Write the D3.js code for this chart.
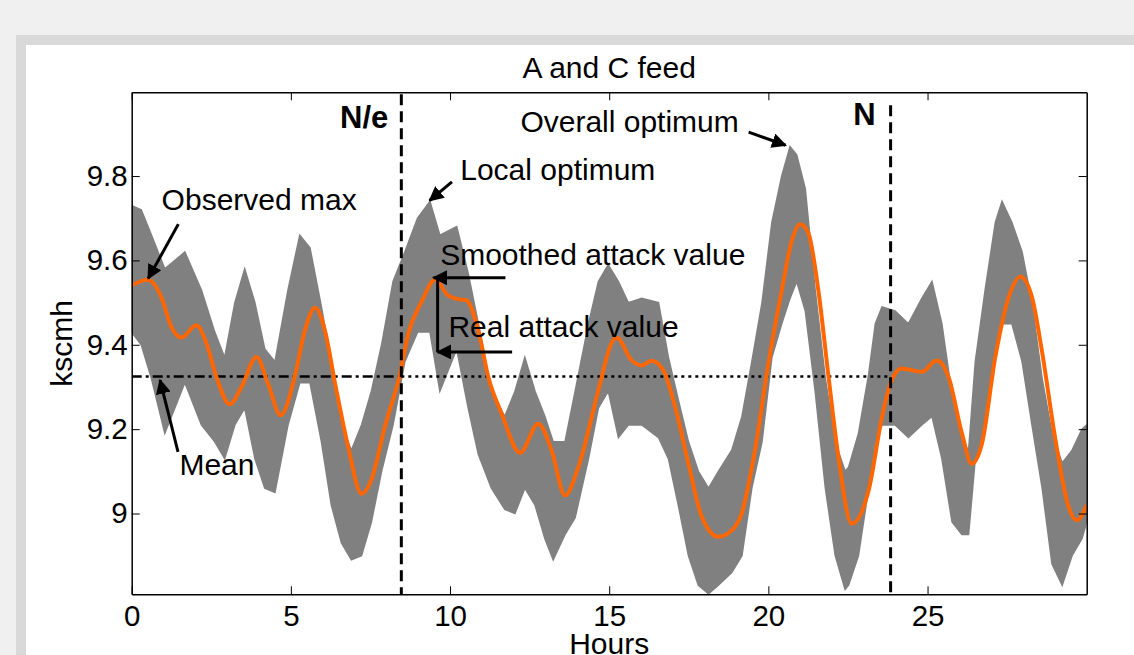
<!DOCTYPE html>
<html>
<head>
<meta charset="utf-8">
<script src="https://cdn.jsdelivr.net/npm/d3@7"></script>
<style>
  html, body { margin: 0; padding: 0; background: #f0f0f0; }
  svg text { font-family: "Liberation Sans", Arial, sans-serif; fill: #000; }
</style>
</head>
<body>
<svg id="chart" width="1134" height="655"></svg>
<script>
// Smoothed (orange) series, hours vs kscmh
const smoothHours = [0, 0.51, 0.93, 1.25, 1.56, 2.03, 2.35, 2.66, 3.08, 3.45, 3.92, 4.28, 4.68, 5.12, 5.44, 5.76, 6.07, 6.39, 6.80, 7.22, 7.53,
  7.95, 8.42, 8.69, 9.10, 9.53, 9.94, 10.20, 10.52, 10.89, 11.20, 11.62, 12.20, 12.77, 13.19, 13.61, 14.03, 14.66, 15.08,
  15.23, 15.71, 16.02, 16.33, 16.70, 17.07, 17.49, 17.91, 18.43, 18.85, 19.16, 19.58, 20.00, 20.42, 20.74, 21.00, 21.26, 21.57, 21.89, 22.20, 22.62,
  23.15, 23.57, 23.83, 24.19, 24.82, 25.29, 25.66, 26.08, 26.39, 26.71, 27.13, 27.55, 27.92, 28.28, 28.59, 29.02, 29.43, 29.69, 30.0];
const smoothValues = [9.541, 9.554, 9.513, 9.442, 9.417, 9.446, 9.403, 9.324, 9.259, 9.300, 9.371, 9.308, 9.233, 9.324, 9.434, 9.488, 9.434, 9.308, 9.158, 9.047, 9.080,
  9.205, 9.328, 9.427, 9.501, 9.554, 9.517, 9.509, 9.505, 9.434, 9.324, 9.237, 9.144, 9.213, 9.150, 9.043, 9.110, 9.292, 9.405,
  9.417, 9.363, 9.351, 9.362, 9.340, 9.253, 9.118, 8.992, 8.945, 8.960, 9.000, 9.150, 9.355, 9.529, 9.648, 9.686, 9.664, 9.529, 9.324, 9.134, 8.976,
  9.055, 9.229, 9.308, 9.344, 9.336, 9.363, 9.324, 9.190, 9.118, 9.166, 9.371, 9.513, 9.561, 9.513, 9.387, 9.174, 9.016, 8.984, 9.020];

// Raw (gray) measurement band: upper and lower envelope of the noisy signal
const bandHours = [0, 0.30, 0.62, 1.04, 1.67, 2.19, 2.61, 2.92, 3.24, 3.55, 3.87, 4.18, 4.50, 4.91, 5.28, 5.60, 5.96, 6.27, 6.59, 6.90, 7.22, 7.53,
  7.85, 8.21, 8.58, 8.98, 9.37, 9.68, 10.21, 10.57, 10.89, 11.30, 11.72, 12.04, 12.35, 12.67, 12.98, 13.24, 13.61, 13.93, 14.35, 14.66, 14.97,
  15.29, 15.60, 16.02, 16.55, 16.86, 17.17, 17.49, 17.80, 18.12, 18.43, 18.85, 19.17, 19.48, 19.80, 20.11, 20.42, 20.68, 20.89, 21.16, 21.47, 21.79, 22.10, 22.41,
  22.52, 22.83, 23.15, 23.36, 23.57, 23.98, 24.40, 24.82, 25.14, 25.45, 25.77, 26.08, 26.29, 26.50, 26.81, 27.13, 27.34, 27.65, 27.97, 28.28, 28.60, 28.91, 29.23, 29.54, 29.85, 30.0];
const bandUpper = [9.73, 9.72, 9.66, 9.58, 9.62, 9.53, 9.43, 9.37, 9.50, 9.58, 9.50, 9.39, 9.36, 9.53, 9.66, 9.63, 9.49, 9.36, 9.21, 9.15, 9.21, 9.29,
  9.40, 9.55, 9.62, 9.70, 9.74, 9.66, 9.68, 9.57, 9.45, 9.29, 9.23, 9.29, 9.37, 9.29, 9.23, 9.17, 9.17, 9.29, 9.45, 9.55, 9.59,
  9.55, 9.50, 9.51, 9.50, 9.37, 9.27, 9.17, 9.10, 9.06, 9.10, 9.15, 9.23, 9.36, 9.50, 9.69, 9.80, 9.87, 9.85, 9.77, 9.53, 9.32, 9.17, 9.10,
  9.11, 9.19, 9.33, 9.45, 9.49, 9.48, 9.45, 9.51, 9.55, 9.45, 9.28, 9.17, 9.15, 9.36, 9.53, 9.69, 9.74, 9.69, 9.62, 9.50, 9.32, 9.19, 9.12, 9.15, 9.20, 9.21];
const bandLower = [9.43, 9.40, 9.32, 9.19, 9.31, 9.21, 9.17, 9.13, 9.21, 9.25, 9.13, 9.06, 9.05, 9.21, 9.31, 9.31, 9.17, 9.02, 8.93, 8.89, 8.90, 8.98,
  9.10, 9.21, 9.36, 9.43, 9.43, 9.29, 9.39, 9.25, 9.14, 9.06, 9.01, 9.00, 9.06, 9.02, 8.94, 8.89, 8.95, 8.99, 9.13, 9.25, 9.29,
  9.18, 9.21, 9.21, 9.18, 9.13, 9.02, 8.90, 8.83, 8.81, 8.83, 8.86, 8.90, 9.06, 9.17, 9.37, 9.45, 9.51, 9.55, 9.48, 9.29, 9.06, 8.90, 8.82,
  8.83, 8.90, 9.06, 9.17, 9.21, 9.21, 9.18, 9.21, 9.23, 9.13, 8.98, 8.95, 8.95, 9.13, 9.21, 9.40, 9.45, 9.45, 9.36, 9.21, 9.06, 8.88, 8.83, 8.90, 8.94, 8.98];

const meanValue = 9.325;
const nOverE = 8.47;   // N/e hours
const nHours = 23.84;  // N hours

const xTicks = [0, 5, 10, 15, 20, 25];
const yTicks = [9, 9.2, 9.4, 9.6, 9.8];
const yTickLabels = ["9", "9.2", "9.4", "9.6", "9.8"];

const margin = { left: 131.7, right: 1086.7, top: 92.3, bottom: 594.3 };
const font = '"Liberation Sans", Arial, sans-serif';

const svg = d3.select('#chart');

// Panel frame
svg.append('rect').attr('x', 21).attr('y', 40).attr('width', 1200).attr('height', 700)
  .attr('fill', '#fff').attr('stroke', '#d9d9d9').attr('stroke-width', 10);

const xScale = d3.scaleLinear().domain([0, 30]).range([margin.left, margin.right]);
const yScale = d3.scaleLinear().domain([8.8085, 9.9985]).range([margin.bottom, margin.top]);

svg.append('clipPath').attr('id', 'plotClip')
  .append('rect')
  .attr('x', margin.left).attr('y', margin.top)
  .attr('width', margin.right - margin.left).attr('height', margin.bottom - margin.top);

const plot = svg.append('g').attr('clip-path', 'url(#plotClip)');

// Gray raw band
const band = bandHours.map((h, i) => ({ h, lo: bandLower[i], hi: bandUpper[i] }));
plot.append('path')
  .datum(band)
  .attr('fill', '#808080')
  .attr('stroke', '#808080')
  .attr('stroke-width', 1.5)
  .attr('d', d3.area().x(d => xScale(d.h)).y0(d => yScale(d.lo)).y1(d => yScale(d.hi)));

// Mean line: dash-dot before N/e, dotted between N/e and N
plot.append('line')
  .attr('x1', xScale(0)).attr('x2', xScale(nOverE))
  .attr('y1', yScale(meanValue)).attr('y2', yScale(meanValue))
  .attr('stroke', '#000').attr('stroke-width', 2.5).attr('stroke-dasharray', '10,4,3,4');
plot.append('line')
  .attr('x1', xScale(nOverE)).attr('x2', xScale(nHours))
  .attr('y1', yScale(meanValue)).attr('y2', yScale(meanValue))
  .attr('stroke', '#000').attr('stroke-width', 2.5).attr('stroke-dasharray', '3,4');

// Smoothed orange line
const smooth = smoothHours.map((h, i) => [h, smoothValues[i]]);
plot.append('path')
  .datum(smooth)
  .attr('fill', 'none')
  .attr('stroke', '#ff6600')
  .attr('stroke-width', 4)
  .attr('stroke-linejoin', 'round')
  .attr('d', d3.line().x(d => xScale(d[0])).y(d => yScale(d[1])).curve(d3.curveMonotoneX));

// Vertical dashed markers
[[nOverE, 9.994], [nHours, 9.968]].forEach(([h, top]) => {
  svg.append('line')
    .attr('x1', xScale(h)).attr('x2', xScale(h))
    .attr('y1', yScale(top)).attr('y2', margin.bottom)
    .attr('stroke', '#000').attr('stroke-width', 3).attr('stroke-dasharray', '11,6');
});

// Axes box with inward ticks on all sides
const tickLen = 8;
svg.append('g').attr('transform', `translate(0,${margin.bottom})`)
  .call(d3.axisBottom(xScale).tickValues(xTicks).tickSizeInner(-tickLen).tickSizeOuter(0).tickPadding(11))
  .call(g => g.select('.domain').attr('stroke-width', 1.5))
  .call(g => g.selectAll('text').attr('font-size', 29.5).attr('font-family', font));
svg.append('g').attr('transform', `translate(0,${margin.top})`)
  .call(d3.axisTop(xScale).tickValues(xTicks).tickSizeInner(-tickLen).tickSizeOuter(0).tickFormat(''))
  .call(g => g.select('.domain').attr('stroke-width', 1.5));
svg.append('g').attr('transform', `translate(${margin.left},0)`)
  .call(d3.axisLeft(yScale).tickValues(yTicks).tickSizeInner(-tickLen).tickSizeOuter(0).tickPadding(4)
    .tickFormat((d, i) => yTickLabels[i]))
  .call(g => g.select('.domain').attr('stroke-width', 1.5))
  .call(g => g.selectAll('text').attr('font-size', 29.5).attr('font-family', font));
svg.append('g').attr('transform', `translate(${margin.right},0)`)
  .call(d3.axisRight(yScale).tickValues(yTicks).tickSizeInner(-tickLen).tickSizeOuter(0).tickFormat(''))
  .call(g => g.select('.domain').attr('stroke-width', 1.5));

// Titles
svg.append('text').attr('x', (margin.left + margin.right) / 2).attr('y', 78)
  .attr('text-anchor', 'middle').attr('font-size', 30).text('A and C feed');
svg.append('text').attr('x', (margin.left + margin.right) / 2).attr('y', 654)
  .attr('text-anchor', 'middle').attr('font-size', 30).text('Hours');
svg.append('text').attr('transform', `translate(72,${(margin.top + margin.bottom) / 2}) rotate(-90)`)
  .attr('text-anchor', 'middle').attr('font-size', 30).text('kscmh');

// Marker labels
svg.append('text').attr('x', xScale(8.06)).attr('y', yScale(9.914))
  .attr('text-anchor', 'end').attr('font-size', 31).attr('font-weight', 'bold').text('N/e');
svg.append('text').attr('x', xScale(23.37)).attr('y', yScale(9.921))
  .attr('text-anchor', 'end').attr('font-size', 31).attr('font-weight', 'bold').text('N');

// Annotations
svg.append('defs').append('marker')
  .attr('id', 'head').attr('viewBox', '0 0 10 10').attr('refX', 9).attr('refY', 5)
  .attr('markerWidth', 5).attr('markerHeight', 5).attr('orient', 'auto')
  .append('path').attr('d', 'M0,0L10,5L0,10Z').attr('fill', '#000');

const labels = [
  { text: 'Observed max', h: 0.94, v: 9.719 },
  { text: 'Mean', h: 1.50, v: 9.091 },
  { text: 'Local optimum', h: 10.32, v: 9.790 },
  { text: 'Overall optimum', h: 12.21, v: 9.904 },
  { text: 'Smoothed attack value', h: 9.69, v: 9.588 },
  { text: 'Real attack value', h: 9.95, v: 9.418 }
];
labels.forEach(l => {
  svg.append('text').attr('x', xScale(l.h)).attr('y', yScale(l.v))
    .attr('font-size', 30).text(l.text);
});

const arrows = [
  [1.465, 9.686, 0.52, 9.557],
  [1.455, 9.146, 0.89, 9.316],
  [10.06, 9.786, 9.36, 9.742],
  [19.38, 9.904, 20.54, 9.873],
  [11.74, 9.559, 9.48, 9.559],
  [11.95, 9.383, 9.61, 9.383]
];
arrows.forEach(a => {
  svg.append('line')
    .attr('x1', xScale(a[0])).attr('y1', yScale(a[1]))
    .attr('x2', xScale(a[2])).attr('y2', yScale(a[3]))
    .attr('stroke', '#000').attr('stroke-width', 3).attr('marker-end', 'url(#head)');
});
// Bracket between smoothed and real attack value
svg.append('line')
  .attr('x1', xScale(9.61)).attr('x2', xScale(9.61))
  .attr('y1', yScale(9.559)).attr('y2', yScale(9.383))
  .attr('stroke', '#000').attr('stroke-width', 3);
</script>
</body>
</html>
